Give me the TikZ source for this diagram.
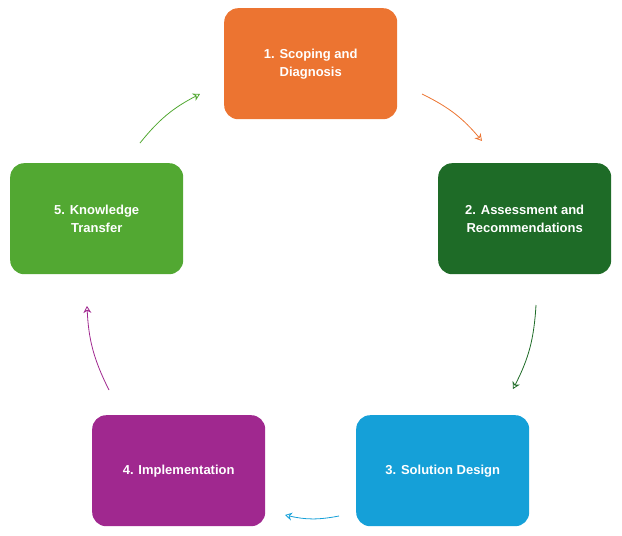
\documentclass[tikz,border=0pt]{standalone}
\usepackage{fontspec}
\setmainfont{Liberation Sans}
\usetikzlibrary{arrows.meta}
\definecolor{cOr}{HTML}{EC7431}
\definecolor{cDg}{HTML}{1E6B27}
\definecolor{cBl}{HTML}{15A0D8}
\definecolor{cPu}{HTML}{A0288F}
\definecolor{cLg}{HTML}{52A832}
\begin{document}
\begin{tikzpicture}[x=1pt,y=-1pt,
 box/.style={rounded corners=14pt,minimum width=173pt,minimum height=111pt,draw=none,text=white,font=\bfseries\fontsize{13}{18}\selectfont,align=center,anchor=north west},
 arr/.style={-{Stealth[open,length=7pt,width=8pt]},line width=0.8pt}]
\useasboundingbox (0,0) rectangle (622,536);
\node[box,fill=cOr] (b1) at (224,8) {1. Scoping and\\Diagnosis};
\node[box,fill=cDg] (b2) at (438,163) {2. Assessment and\\Recommendations};
\node[box,fill=cBl] (b3) at (356,415) {3. Solution Design};
\node[box,fill=cPu] (b4) at (92,415) {4. Implementation};
\node[box,fill=cLg] (b5) at (10,163) {5. Knowledge\\Transfer};
\coordinate (a1s) at (422,94); \coordinate (a1e) at (482,141);
\coordinate (a2s) at (536,305); \coordinate (a2e) at (513,389);
\coordinate (a3s) at (339,516); \coordinate (a3e) at (285,515);
\coordinate (a4s) at (109,390); \coordinate (a4e) at (87,306);
\coordinate (a5s) at (140,143); \coordinate (a5e) at (200,94);
\draw[arr,draw=cOr] (a1s) to[bend left=12] (a1e);
\draw[arr,draw=cDg] (a2s) to[bend left=12] (a2e);
\draw[arr,draw=cBl] (a3s) to[bend left=12] (a3e);
\draw[arr,draw=cPu] (a4s) to[bend left=12] (a4e);
\draw[arr,draw=cLg] (a5s) to[bend left=12] (a5e);
\end{tikzpicture}
\end{document}
